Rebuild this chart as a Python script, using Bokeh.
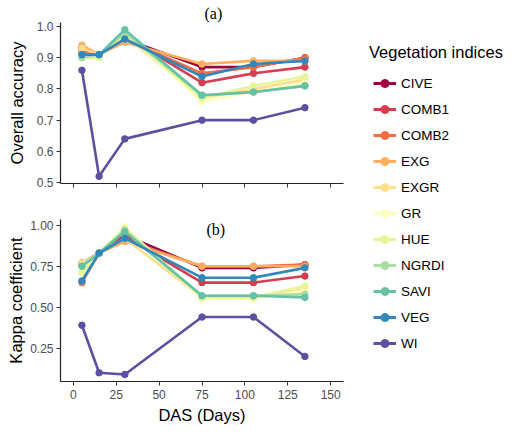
from bokeh.plotting import figure
from bokeh.layouts import row, column
from bokeh.models import Range1d, Label, Legend, LegendItem, ColumnDataSource, FixedTicker
from bokeh.embed import file_html
from bokeh.resources import INLINE

das = [5, 15, 30, 75, 105, 135]
indices = ["CIVE", "COMB1", "COMB2", "EXG", "EXGR", "GR", "HUE", "NGRDI", "SAVI", "VEG", "WI"]
colors = ["#9E0142", "#D53E4F", "#F46D43", "#FDAE61", "#FEE08B", "#FFFFBF",
          "#E6F598", "#ABDDA4", "#66C2A5", "#3288BD", "#5E4FA2"]

oa_CIVE = [0.93, 0.91, 0.96, 0.87, 0.87, 0.90]
oa_COMB1 = [0.93, 0.91, 0.97, 0.82, 0.85, 0.87]
oa_COMB2 = [0.92, 0.91, 0.96, 0.85, 0.87, 0.90]
oa_EXG = [0.94, 0.91, 0.95, 0.88, 0.89, 0.89]
oa_EXGR = [0.93, 0.91, 0.97, 0.77, 0.80, 0.83]
oa_GR = [0.91, 0.91, 0.98, 0.76, 0.79, 0.82]
oa_HUE = [0.90, 0.90, 0.98, 0.77, 0.81, 0.84]
oa_NGRDI = [0.90, 0.91, 0.98, 0.78, 0.79, 0.81]
oa_SAVI = [0.91, 0.91, 0.99, 0.78, 0.79, 0.81]
oa_VEG = [0.91, 0.91, 0.96, 0.84, 0.88, 0.89]
oa_WI = [0.86, 0.52, 0.64, 0.70, 0.70, 0.74]

k_CIVE = [0.77, 0.83, 0.94, 0.74, 0.74, 0.76]
k_COMB1 = [0.76, 0.83, 0.93, 0.65, 0.65, 0.69]
k_COMB2 = [0.65, 0.83, 0.91, 0.75, 0.75, 0.76]
k_EXG = [0.66, 0.83, 0.90, 0.75, 0.75, 0.75]
k_EXGR = [0.77, 0.83, 0.92, 0.56, 0.56, 0.61]
k_GR = [0.72, 0.83, 0.99, 0.55, 0.55, 0.60]
k_HUE = [0.71, 0.83, 0.98, 0.56, 0.56, 0.63]
k_NGRDI = [0.75, 0.83, 0.97, 0.57, 0.57, 0.58]
k_SAVI = [0.75, 0.83, 0.96, 0.57, 0.57, 0.56]
k_VEG = [0.66, 0.83, 0.92, 0.68, 0.68, 0.74]
k_WI = [0.39, 0.10, 0.09, 0.44, 0.44, 0.20]

oa = [oa_CIVE, oa_COMB1, oa_COMB2, oa_EXG, oa_EXGR, oa_GR, oa_HUE, oa_NGRDI, oa_SAVI, oa_VEG, oa_WI]
kappa = [k_CIVE, k_COMB1, k_COMB2, k_EXG, k_EXGR, k_GR, k_HUE, k_NGRDI, k_SAVI, k_VEG, k_WI]

x_ticks = [0, 25, 50, 75, 100, 125, 150]
oa_ticks = [0.5, 0.6, 0.7, 0.8, 0.9, 1.0]
k_ticks = [0.25, 0.50, 0.75, 1.00]

SANS = "Liberation Sans"
SERIF = "Liberation Serif"


def style(p, show_x_labels):
    p.xgrid.visible = False
    p.ygrid.visible = False
    p.outline_line_color = None
    for ax in (p.xaxis[0], p.yaxis[0]):
        ax.axis_line_color = "#222222"
        ax.axis_line_width = 1.2
        ax.major_tick_line_color = "#333333"
        ax.major_tick_in = 0
        ax.major_tick_out = 4
        ax.minor_tick_line_color = None
        ax.major_label_text_font = SANS
        ax.major_label_text_font_size = "12px"
        ax.major_label_text_color = "#4D4D4D"
        ax.axis_label_text_font = SANS
        ax.axis_label_text_font_size = "16.5px"
        ax.axis_label_text_font_style = "normal"
        ax.axis_label_text_color = "#000000"
        ax.major_label_standoff = 3
    p.xaxis[0].ticker = FixedTicker(ticks=x_ticks)
    if not show_x_labels:
        p.xaxis[0].major_label_overrides = {t: "" for t in x_ticks}


p1 = figure(width=349, height=205, x_range=Range1d(-7.5, 157.5), y_range=Range1d(0.497, 1.013),
            output_backend="svg", toolbar_location=None,
            min_border_left=60, min_border_right=6, min_border_top=22, min_border_bottom=22)
style(p1, False)
p1.title.text = "(a)"
p1.title.align = "left"
p1.title.offset = 144
p1.title.standoff = 1
p1.title.text_font = SERIF
p1.title.text_font_size = "16px"
p1.title.text_font_style = "normal"
p1.title.text_color = "#000000"
p1.yaxis[0].ticker = FixedTicker(ticks=oa_ticks)
p1.yaxis[0].axis_label = "Overall accuracy"
p1.yaxis[0].axis_label_standoff = 8
p1.yaxis[0].major_label_overrides = {t: f"{t:.1f}" for t in oa_ticks}

p2 = figure(width=349, height=225, x_range=Range1d(-7.5, 157.5), y_range=Range1d(0.047, 1.035),
            output_backend="svg", toolbar_location=None,
            min_border_left=60, min_border_right=6, min_border_top=14, min_border_bottom=49)
style(p2, True)
p2.yaxis[0].ticker = FixedTicker(ticks=k_ticks)
p2.yaxis[0].axis_label = "Kappa coefficient"
p2.yaxis[0].axis_label_standoff = 2
p2.yaxis[0].major_label_overrides = {t: f"{t:.2f}" for t in k_ticks}
p2.xaxis[0].axis_label = "DAS (Days)"
p2.xaxis[0].major_label_standoff = 4
p2.xaxis[0].axis_label_standoff = 4

for name, col, a, k in zip(indices, colors, oa, kappa):
    p1.line(das, a, line_color=col, line_width=2.6)
    p1.scatter(das, a, size=6.5, fill_color=col, line_color=col)
    p2.line(das, k, line_color=col, line_width=2.6)
    p2.scatter(das, k, size=6.5, fill_color=col, line_color=col)

p2.add_layout(Label(x=83, y=0.977, text="(b)", text_align="center", text_baseline="middle",
                    text_font=SERIF, text_font_size="16px", text_color="#000000"))

# legend panel (data units equal pixels)
lp = figure(width=167, height=430, x_range=Range1d(0, 167), y_range=Range1d(0, 430),
            output_backend="svg", toolbar_location=None, x_axis_location=None, y_axis_location=None,
            min_border=0, min_border_left=0, min_border_right=0, min_border_top=0, min_border_bottom=0)
lp.xgrid.visible = False
lp.ygrid.visible = False
lp.outline_line_color = None

items = []
for name, col in zip(indices, colors):
    src = ColumnDataSource(dict(x=[-1000, -999], y=[-1000, -999]))
    lr = lp.line("x", "y", source=src, line_color=col, line_width=3)
    sr = lp.scatter("x", "y", source=src, size=6, fill_color=col, line_color=col)
    items.append(LegendItem(label=name, renderers=[lr, sr]))

leg = Legend(items=items, location=(24, 77), orientation="vertical",
             glyph_width=23, glyph_height=20, label_height=20, spacing=6,
             label_standoff=5, label_text_font=SANS, label_text_font_size="13.5px",
             label_text_color="#000000", padding=0, margin=0,
             border_line_color=None, background_fill_alpha=0)
lp.add_layout(leg, "center")
lp.add_layout(Label(x=19.5, y=379, text="Vegetation indices", text_align="left", text_baseline="middle",
                    text_font=SANS, text_font_size="16.5px", text_color="#000000"))

layout = row(column(p1, p2), lp)

with open("out.html", "w") as f:
    f.write(file_html(layout, INLINE))
